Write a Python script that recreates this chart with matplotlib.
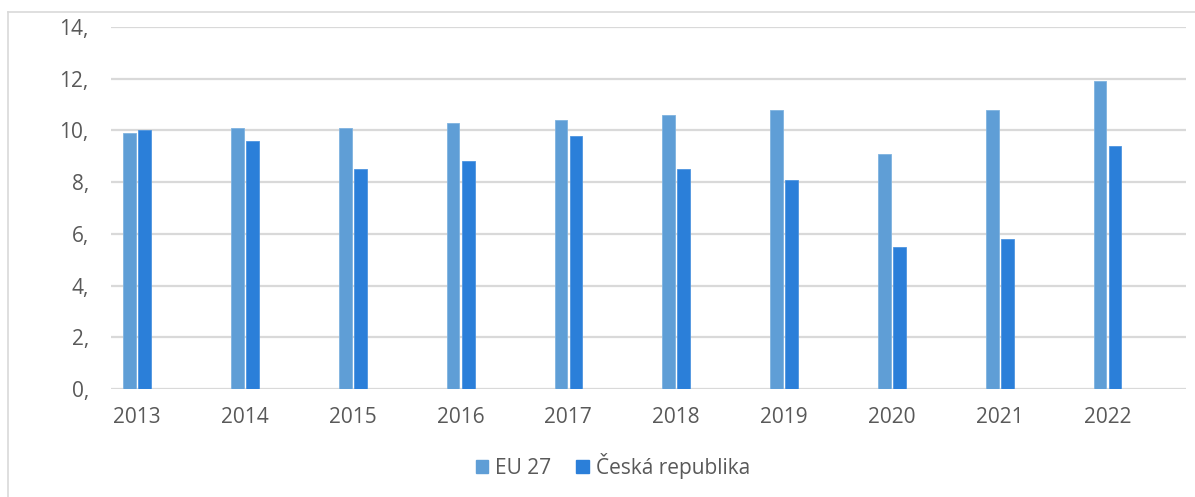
import matplotlib
matplotlib.use("Agg")
import matplotlib.pyplot as plt
from matplotlib.lines import Line2D
from matplotlib.patches import Patch
import numpy as np

years = ["2013", "2014", "2015", "2016", "2017", "2018", "2019", "2020", "2021", "2022"]
eu27 = [9.9, 10.1, 10.1, 10.3, 10.4, 10.6, 10.8, 9.1, 10.8, 11.9]
cz = [10.0, 9.6, 8.5, 8.8, 9.8, 8.5, 8.1, 5.5, 5.8, 9.4]
ytick_vals = [0, 2, 4, 6, 8, 10, 12, 14]
ytick_labels = ["0,", "2,", "4,", "6,", "8,", "10,", "12,", "14,"]

c_eu = "#5f9ed6"
c_cz = "#2b7fd9"
txt = "#595959"

plt.rcParams['font.family'] = ['Open Sans', 'DejaVu Sans']

W, H = 1195, 497
fig = plt.figure(figsize=(W / 100, H / 100), dpi=100)
ax = fig.add_axes([111 / W, 1 - 389 / H, (1186 - 111) / W, (389 - 27) / H])

x = np.arange(len(years))
bw = 0.118
ax.bar(x - 0.068, eu27, width=bw, color=c_eu, edgecolor="#7fb3e0", linewidth=0.6, zorder=3)
ax.bar(x + 0.072, cz, width=bw, color=c_cz, edgecolor="#4e95e0", linewidth=0.6, zorder=3)

ax.set_xlim(-0.241, 9.73)
ax.set_ylim(0, 14)
ax.set_yticks(ytick_vals)
ax.set_yticklabels(ytick_labels)
ax.set_xticks(x)
ax.set_xticklabels(years)
ax.yaxis.grid(True, color="#d9d9d9", linewidth=1.6, zorder=0)
ax.set_axisbelow(True)
for s in ax.spines.values():
    s.set_visible(False)
ax.tick_params(axis="both", length=0, colors=txt, labelsize=15)
ax.tick_params(axis="y", pad=16)
ax.tick_params(axis="x", pad=13)

handles = [Patch(facecolor=c_eu, edgecolor=c_eu), Patch(facecolor=c_cz, edgecolor=c_cz)]
fig.legend(handles, ["EU 27", "Česká republika"], loc="center", bbox_to_anchor=(613 / W, 1 - 466 / H),
           ncol=2, frameon=False, fontsize=15, handlelength=0.6, handleheight=0.6,
           handletextpad=0.35, columnspacing=1.2, labelcolor=txt)

# chart area border
fig.add_artist(Line2D([8 / W, 8 / W], [0, 1 - 12 / H], transform=fig.transFigure, color="#d9d9d9", linewidth=1.2))
fig.add_artist(Line2D([8 / W, 1], [1 - 12 / H, 1 - 12 / H], transform=fig.transFigure, color="#d9d9d9", linewidth=1.2))

fig.savefig("out.png", dpi=100)
